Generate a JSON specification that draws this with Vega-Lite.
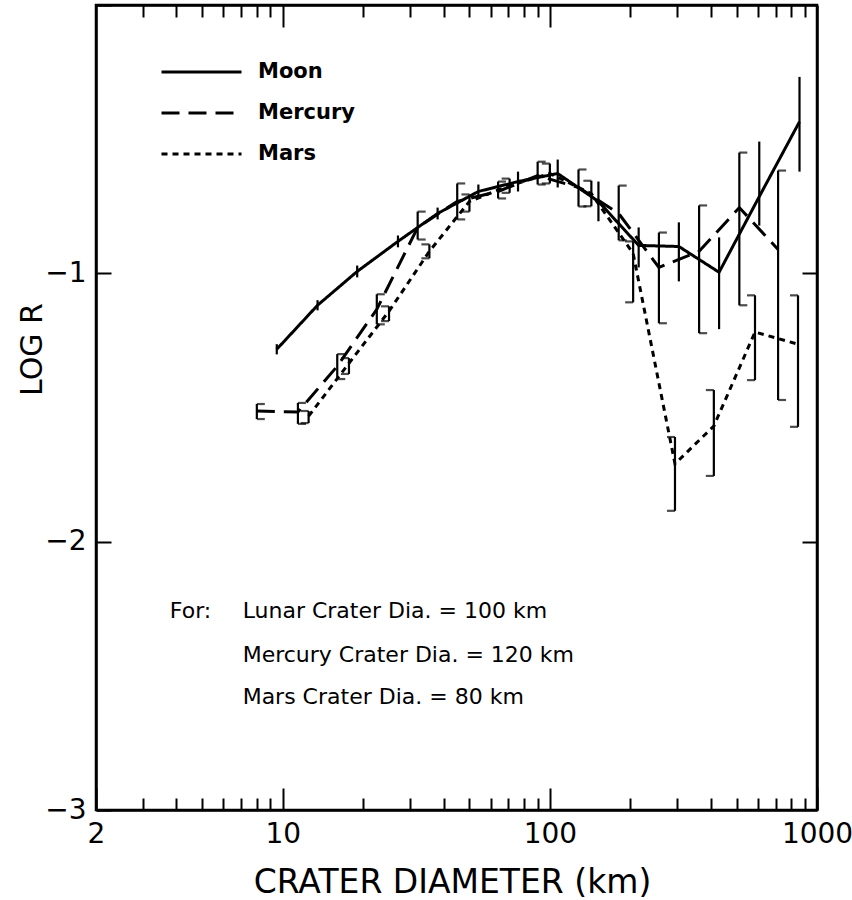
{
  "$schema": "https://vega.github.io/schema/vega-lite/v6.json",
  "width": 721,
  "height": 805,
  "autosize": {"type": "none"},
  "padding": {"left": 96, "top": 5, "right": 35, "bottom": 90},
  "background": "white",
  "config": {
    "font": "DejaVu Sans",
    "view": {"stroke": "black", "strokeWidth": 2.5},
    "axis": {
      "grid": false,
      "domainColor": "black",
      "domainWidth": 2.5,
      "tickColor": "black",
      "tickWidth": 2,
      "labelColor": "black",
      "titleColor": "black",
      "labelFont": "DejaVu Sans",
      "titleFont": "DejaVu Sans",
      "titleFontWeight": "normal",
      "labelOverlap": false,
      "labelFlush": false
    }
  },
  "datasets": {
    "series": [
      {"body": "Moon", "d": 9.5, "logR": -1.283, "lo": -1.302, "hi": -1.264},
      {"body": "Moon", "d": 13.5, "logR": -1.119, "lo": -1.138, "hi": -1.100},
      {"body": "Moon", "d": 19, "logR": -0.993, "lo": -1.015, "hi": -0.971},
      {"body": "Moon", "d": 27, "logR": -0.881, "lo": -0.903, "hi": -0.859},
      {"body": "Moon", "d": 38, "logR": -0.777, "lo": -0.799, "hi": -0.755},
      {"body": "Moon", "d": 54, "logR": -0.695, "lo": -0.721, "hi": -0.669},
      {"body": "Moon", "d": 76, "logR": -0.658, "lo": -0.695, "hi": -0.621},
      {"body": "Moon", "d": 107, "logR": -0.628, "lo": -0.680, "hi": -0.576},
      {"body": "Moon", "d": 152, "logR": -0.732, "lo": -0.806, "hi": -0.658},
      {"body": "Moon", "d": 215, "logR": -0.896, "lo": -0.978, "hi": -0.829},
      {"body": "Moon", "d": 304, "logR": -0.900, "lo": -1.030, "hi": -0.810},
      {"body": "Moon", "d": 430, "logR": -0.996, "lo": -1.208, "hi": -0.866},
      {"body": "Moon", "d": 608, "logR": -0.714, "lo": -0.822, "hi": -0.509},
      {"body": "Moon", "d": 860, "logR": -0.435, "lo": -0.621, "hi": -0.268},
      {"body": "Mercury", "d": 8.0, "logR": -1.513, "lo": -1.543, "hi": -1.487},
      {"body": "Mercury", "d": 11.4, "logR": -1.517, "lo": -1.561, "hi": -1.483},
      {"body": "Mercury", "d": 16, "logR": -1.346, "lo": -1.394, "hi": -1.301},
      {"body": "Mercury", "d": 22.5, "logR": -1.134, "lo": -1.190, "hi": -1.078},
      {"body": "Mercury", "d": 32, "logR": -0.829, "lo": -0.874, "hi": -0.770},
      {"body": "Mercury", "d": 45, "logR": -0.732, "lo": -0.799, "hi": -0.665},
      {"body": "Mercury", "d": 64, "logR": -0.695, "lo": -0.721, "hi": -0.658},
      {"body": "Mercury", "d": 90, "logR": -0.636, "lo": -0.669, "hi": -0.584},
      {"body": "Mercury", "d": 128, "logR": -0.680, "lo": -0.751, "hi": -0.613},
      {"body": "Mercury", "d": 181, "logR": -0.777, "lo": -0.877, "hi": -0.673},
      {"body": "Mercury", "d": 256, "logR": -0.978, "lo": -1.186, "hi": -0.848},
      {"body": "Mercury", "d": 362, "logR": -0.918, "lo": -1.223, "hi": -0.747},
      {"body": "Mercury", "d": 512, "logR": -0.755, "lo": -1.119, "hi": -0.550},
      {"body": "Mercury", "d": 715, "logR": -0.911, "lo": -1.472, "hi": -0.617},
      {"body": "Mars", "d": 12.5, "logR": -1.532, "lo": -1.558, "hi": -1.513},
      {"body": "Mars", "d": 17.7, "logR": -1.335, "lo": -1.375, "hi": -1.316},
      {"body": "Mars", "d": 25, "logR": -1.141, "lo": -1.178, "hi": -1.123},
      {"body": "Mars", "d": 35.4, "logR": -0.918, "lo": -0.944, "hi": -0.892},
      {"body": "Mars", "d": 50, "logR": -0.732, "lo": -0.770, "hi": -0.706},
      {"body": "Mars", "d": 70.7, "logR": -0.673, "lo": -0.700, "hi": -0.647},
      {"body": "Mars", "d": 100, "logR": -0.628, "lo": -0.665, "hi": -0.591},
      {"body": "Mars", "d": 143, "logR": -0.703, "lo": -0.750, "hi": -0.655},
      {"body": "Mars", "d": 205, "logR": -0.926, "lo": -1.108, "hi": -0.881},
      {"body": "Mars", "d": 294, "logR": -1.710, "lo": -1.885, "hi": -1.610},
      {"body": "Mars", "d": 411, "logR": -1.569, "lo": -1.755, "hi": -1.435},
      {"body": "Mars", "d": 586, "logR": -1.219, "lo": -1.398, "hi": -1.082},
      {"body": "Mars", "d": 849, "logR": -1.264, "lo": -1.572, "hi": -1.082}
    ],
    "notes": [
      {"d": 3.78, "logR": -2.26, "note": "For:"},
      {"d": 7.08, "logR": -2.26, "note": "Lunar Crater Dia. = 100 km"},
      {"d": 7.08, "logR": -2.424, "note": "Mercury Crater Dia. = 120 km"},
      {"d": 7.08, "logR": -2.58, "note": "Mars Crater Dia. = 80 km"}
    ]
  },
  "resolve": {"axis": {"x": "independent", "y": "independent"}},
  "layer": [
    {
      "data": {"name": "series"},
      "mark": {"type": "line", "color": "black", "strokeWidth": 3},
      "encoding": {
        "x": {
          "field": "d", "type": "quantitative",
          "scale": {"type": "log", "domain": [2, 1000], "nice": false},
          "axis": {
            "orient": "bottom",
            "values": [2, 10, 100, 1000],
            "format": "d",
            "tickSize": -22,
            "labelPadding": 32,
            "labelFontSize": 28,
            "title": "CRATER DIAMETER (km)",
            "titleFontSize": 33,
            "titleX": 356,
            "titleY": 82,
            "titleAlign": "center",
            "titleBaseline": "alphabetic"
          }
        },
        "y": {
          "field": "logR", "type": "quantitative",
          "scale": {"domain": [-3, 0], "nice": false, "zero": false},
          "axis": {
            "orient": "left",
            "values": [-3, -2, -1, 0],
            "labelExpr": "datum.value == 0 ? '' : datum.label",
            "tickSize": -15,
            "labelPadding": 25,
            "labelFontSize": 28,
            "title": "LOG R",
            "titleFontSize": 30,
            "titleX": -64,
            "titleY": 344,
            "titleAngle": 270,
            "titleAlign": "center",
            "titleBaseline": "middle"
          }
        },
        "strokeDash": {
          "field": "body", "type": "nominal",
          "scale": {"domain": ["Moon", "Mercury", "Mars"], "range": [[1, 0], [18, 9], [6, 5]]},
          "legend": {
            "orient": "none",
            "legendX": 64,
            "legendY": 52,
            "title": null,
            "padding": 0,
            "symbolType": "stroke",
            "symbolSize": 6400,
            "symbolStrokeWidth": 3,
            "symbolStrokeColor": "black",
            "clipHeight": 30,
            "rowPadding": 11,
            "labelFontSize": 21,
            "labelFontWeight": "bold",
            "labelColor": "black",
            "labelOffset": 15
          }
        }
      }
    },
    {
      "data": {"name": "series"},
      "mark": {"type": "rule", "color": "black", "strokeWidth": 2.2},
      "encoding": {
        "x": {
          "field": "d", "type": "quantitative", "scale": {"type": "log"},
          "axis": {"orient": "top", "values": [10, 100], "tickSize": -22, "labels": false, "title": null}
        },
        "y": {
          "field": "lo", "type": "quantitative",
          "axis": {"orient": "right", "values": [-2, -1], "tickSize": -15, "labels": false, "title": null}
        },
        "y2": {"field": "hi"}
      }
    },
    {
      "data": {"name": "series"},
      "transform": [
        {"filter": "datum.body == 'Mercury'"},
        {"fold": ["lo", "hi"], "as": ["end", "val"]}
      ],
      "mark": {"type": "tick", "orient": "horizontal", "color": "black", "size": 8, "thickness": 2.2, "xOffset": 4},
      "encoding": {
        "x": {
          "field": "d", "type": "quantitative", "scale": {"type": "log"},
          "axis": {"orient": "bottom", "values": [3, 4, 5, 6, 7, 8, 9, 20, 30, 40, 50, 60, 70, 80, 90, 200, 300, 400, 500, 600, 700, 800, 900], "tickSize": -12, "labels": false, "domain": false, "title": null}
        },
        "y": {"field": "val", "type": "quantitative", "axis": null}
      }
    },
    {
      "data": {"name": "series"},
      "transform": [
        {"filter": "datum.body == 'Mars'"},
        {"fold": ["lo", "hi"], "as": ["end", "val"]}
      ],
      "mark": {"type": "tick", "orient": "horizontal", "color": "black", "size": 8, "thickness": 2.2, "xOffset": -4},
      "encoding": {
        "x": {
          "field": "d", "type": "quantitative", "scale": {"type": "log"},
          "axis": {"orient": "top", "values": [3, 4, 5, 6, 7, 8, 9, 20, 30, 40, 50, 60, 70, 80, 90, 200, 300, 400, 500, 600, 700, 800, 900], "tickSize": -12, "labels": false, "domain": false, "title": null}
        },
        "y": {"field": "val", "type": "quantitative", "axis": null}
      }
    },
    {
      "data": {"name": "notes"},
      "mark": {"type": "text", "align": "left", "baseline": "middle", "fontSize": 22, "color": "black", "font": "DejaVu Sans"},
      "encoding": {
        "x": {"field": "d", "type": "quantitative", "scale": {"type": "log"}, "axis": null},
        "y": {"field": "logR", "type": "quantitative", "axis": null},
        "text": {"field": "note"}
      }
    }
  ]
}
